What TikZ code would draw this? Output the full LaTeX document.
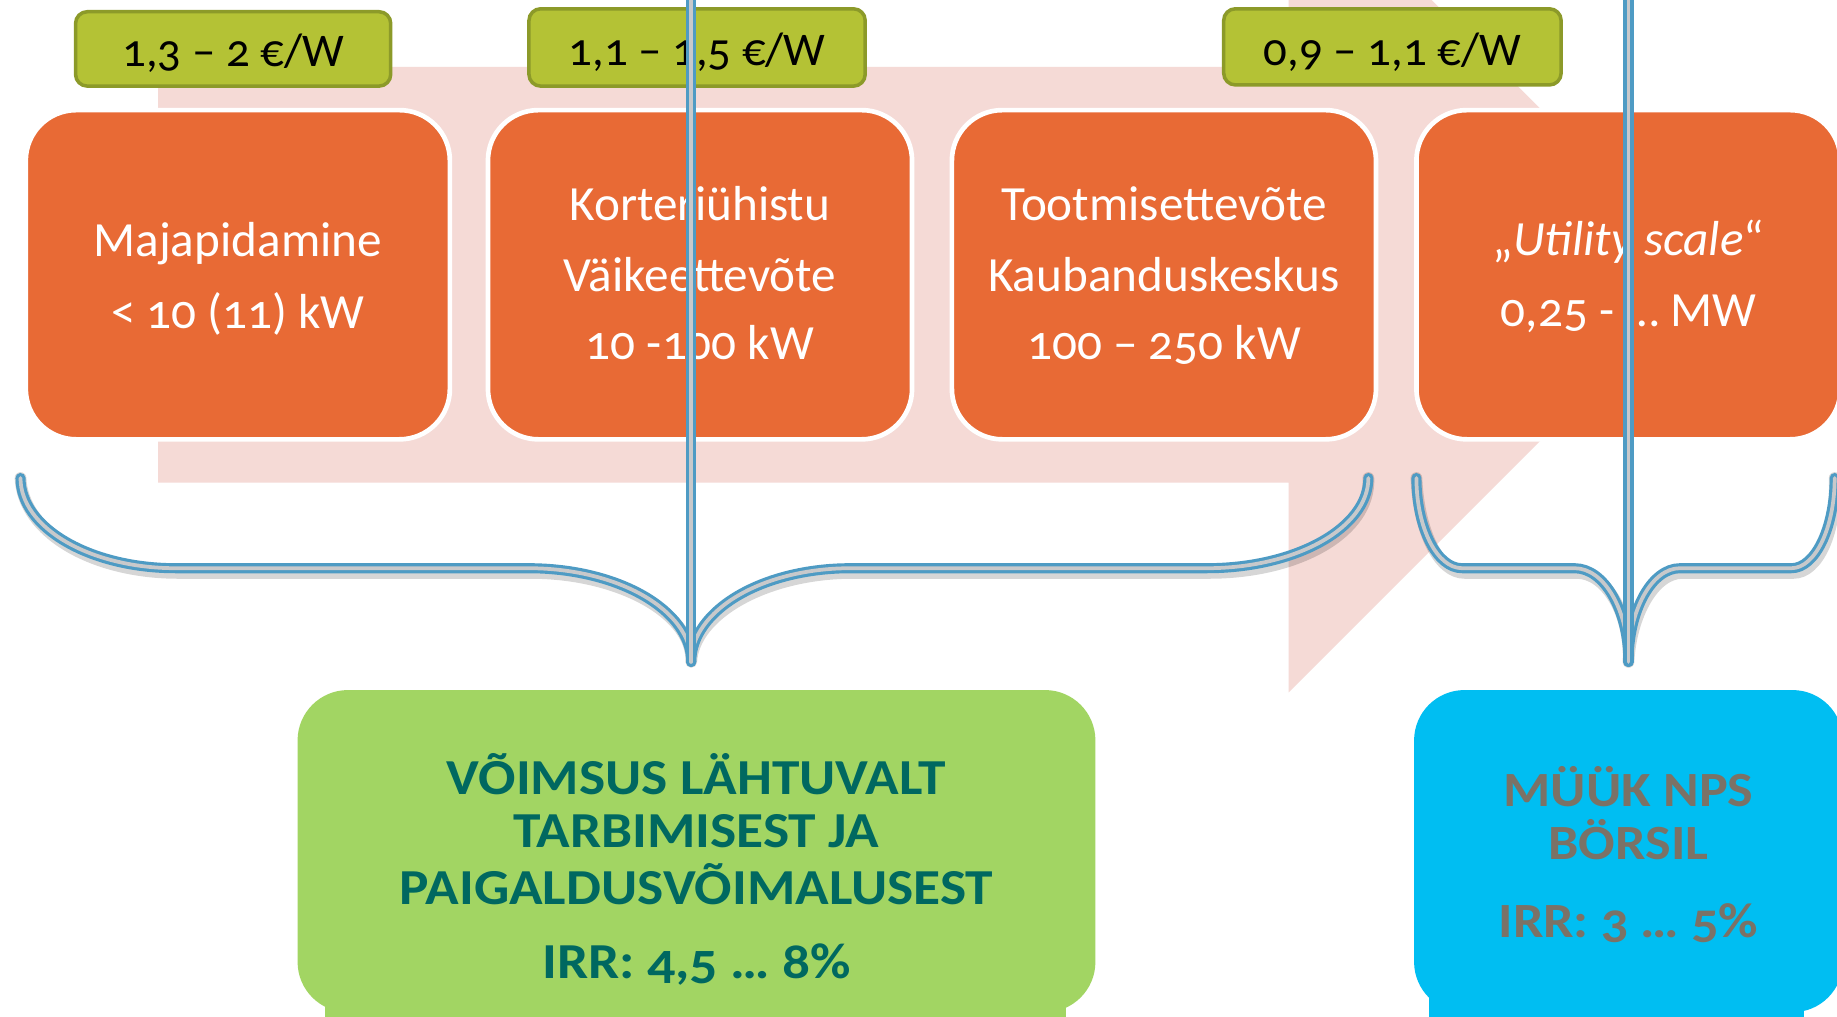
\documentclass[tikz,border=0pt]{standalone}
\usepackage{fontspec}
\setmainfont{Carlito}[Numbers=OldStyle]
\newcommand\wdtxt[1]{\scalebox{1.1}[1]{#1}}
\definecolor{pinkbg}{RGB}{245,218,214}
\definecolor{orangebox}{RGB}{232,106,53}
\definecolor{pricefill}{RGB}{180,194,53}
\definecolor{pricedraw}{RGB}{140,154,41}
\definecolor{greenbox}{RGB}{162,213,99}
\definecolor{cyanbox}{RGB}{0,190,242}
\definecolor{tealtext}{RGB}{0,104,96}
\definecolor{graytext}{RGB}{123,114,102}
\definecolor{braceblue}{RGB}{78,155,196}
\definecolor{bracegray}{RGB}{200,201,203}
\begin{document}
\begin{tikzpicture}[x=1pt,y=-1pt,
  obox/.style={draw=white,line width=4pt,fill=orangebox,rounded corners=43pt,inner sep=0pt},
  pbox/.style={draw=pricedraw,line width=3pt,fill=pricefill,rounded corners=10pt,inner sep=0pt},
  rbox/.style={fill=#1,rounded corners=43pt,inner sep=0pt},
  otext/.style={anchor=base,text=white,inner sep=0pt,font=\fontsize{42}{50}\selectfont},
  ptext/.style={anchor=base,text=black,inner sep=0pt,font=\fontsize{40}{48}\selectfont},
  gtext/.style={anchor=base,text=tealtext,inner sep=0pt,font=\bfseries\fontsize{43}{48}\selectfont},
  btext/.style={anchor=base,text=graytext,inner sep=0pt,font=\bfseries\fontsize{42}{48}\selectfont},
  bracestroke/.style={draw=braceblue,line width=2.7pt,double=bracegray,double distance=3.2pt,line cap=round,line join=round},
  braceshadow/.style={draw=black,opacity=0.16,line width=10pt,line cap=round,line join=round,shift={(2,4)}}
]
\useasboundingbox (0,0) rectangle (1568,868);
\clip (0,0) rectangle (1568,868);
\fill[white] (0,0) rectangle (1568,868);

% pink background arrow
\fill[pinkbg] (135,57) -- (1100,57) -- (1100,-122) -- (1456.5,234.5) -- (1100,591) -- (1100,412) -- (135,412) -- cycle;

% price boxes
\node[pbox,minimum width=269pt,minimum height=63.5pt] (p1) at (199,41.75) {};
\node[pbox,minimum width=287pt,minimum height=66pt] (p2) at (595,40.5) {};
\node[pbox,minimum width=288pt,minimum height=65pt] (p3) at (1188.5,40) {};
\node[ptext] (p1t) at (199,57) {1,3 – 2 €/W};
\node[ptext] (p2t) at (595,55.5) {1,1 – 1,5 €/W};
\node[ptext] (p3t) at (1188.5,55.5) {0,9 – 1,1 €/W};

% orange boxes
\node[obox,minimum width=362pt,minimum height=281pt] (b1) at (203,234.5) {};
\node[obox,minimum width=362pt,minimum height=281pt] (b2) at (597.5,234.5) {};
\node[obox,minimum width=362pt,minimum height=281pt] (b3) at (993.5,234.5) {};
\node[obox,minimum width=362pt,minimum height=281pt] (b4) at (1390,234.5) {};

\node[otext] (b1a) at (203,219) {Majapidamine};
\node[otext] (b1b) at (203,280) {< 10 (11) kW};
\node[otext] (b2a) at (597.5,188) {Korteriühistu};
\node[otext] (b2b) at (597.5,249) {Väikeettevõte};
\node[otext] (b2c) at (597.5,307) {10 -100 kW};
\node[otext] (b3a) at (993.5,188) {Tootmisettevõte};
\node[otext] (b3b) at (993.5,249) {Kaubanduskeskus};
\node[otext] (b3c) at (993.5,307) {100 – 250 kW};
\node[otext] (b4a) at (1390,218) {„\textit{Utility scale}“};
\node[otext] (b4b) at (1390,279) {0,25 - … MW};

% brace coordinates
\coordinate (e1l) at (17.5,408);
\coordinate (e1r) at (1168,408);
\coordinate (tip1) at (590,565);
\coordinate (top1) at (590,-5);
\coordinate (e2l) at (1209,408);
\coordinate (e2r) at (1566,408);
\coordinate (tip2) at (1390,565);
\coordinate (top2) at (1390,-5);

% shadows
\draw[braceshadow] (e1l) .. controls (17.5,450.5) and (76.8,485) .. (150,485) -- (451,485)
   .. controls (527.8,485) and (590,520.8) .. (tip1)
   .. controls (590,520.8) and (650.9,485) .. (726,485) -- (1030,485)
   .. controls (1106.2,485) and (1168,450.5) .. (e1r);
\draw[braceshadow] (e2l) .. controls (1209,450.5) and (1226.5,485) .. (1248,485) -- (1344,485)
   .. controls (1369.4,485) and (1390,521) .. (tip2)
   .. controls (1390,521) and (1409.7,485) .. (1434,485) -- (1529,485)
   .. controls (1549.4,485) and (1566,450.5) .. (e2r);
% braces
\draw[bracestroke] (e1l) .. controls (17.5,450.5) and (76.8,485) .. (150,485) -- (451,485)
   .. controls (527.8,485) and (590,520.8) .. (tip1);
\draw[bracestroke] (tip1) .. controls (590,520.8) and (650.9,485) .. (726,485) -- (1030,485)
   .. controls (1106.2,485) and (1168,450.5) .. (e1r);
\draw[bracestroke] (e2l) .. controls (1209,450.5) and (1226.5,485) .. (1248,485) -- (1344,485)
   .. controls (1369.4,485) and (1390,521) .. (tip2);
\draw[bracestroke] (tip2) .. controls (1390,521) and (1409.7,485) .. (1434,485) -- (1529,485)
   .. controls (1549.4,485) and (1566,450.5) .. (e2r);
% vertical lines
\draw[bracestroke] (top1) -- (tip1);
\draw[bracestroke] (top2) -- (tip2);

% result boxes
\fill[greenbox] (277,850) rectangle (910,870);
\fill[cyanbox] (1220,850) rectangle (1540,870);
\node[rbox=greenbox,minimum width=681pt,minimum height=275pt] (g) at (594.5,726.5) {};
\node[rbox=cyanbox,minimum width=366pt,minimum height=275pt] (c) at (1390,726.5) {};

\node[gtext] (g1) at (594.5,678) {\wdtxt{VÕIMSUS LÄHTUVALT}};
\node[gtext] (g2) at (594.5,723) {\wdtxt{TARBIMISEST JA}};
\node[gtext] (g3) at (594.5,772) {\wdtxt{PAIGALDUSVÕIMALUSEST}};
\node[gtext] (g4) at (594.5,835) {\wdtxt{IRR: 4,5 … 8\%}};

\node[btext] (c1) at (1390,688) {\wdtxt{MÜÜK NPS}};
\node[btext] (c2) at (1390,734) {\wdtxt{BÖRSIL}};
\node[btext] (c3) at (1390,800) {\wdtxt{IRR: 3 … 5\%}};
\end{tikzpicture}
\end{document}
